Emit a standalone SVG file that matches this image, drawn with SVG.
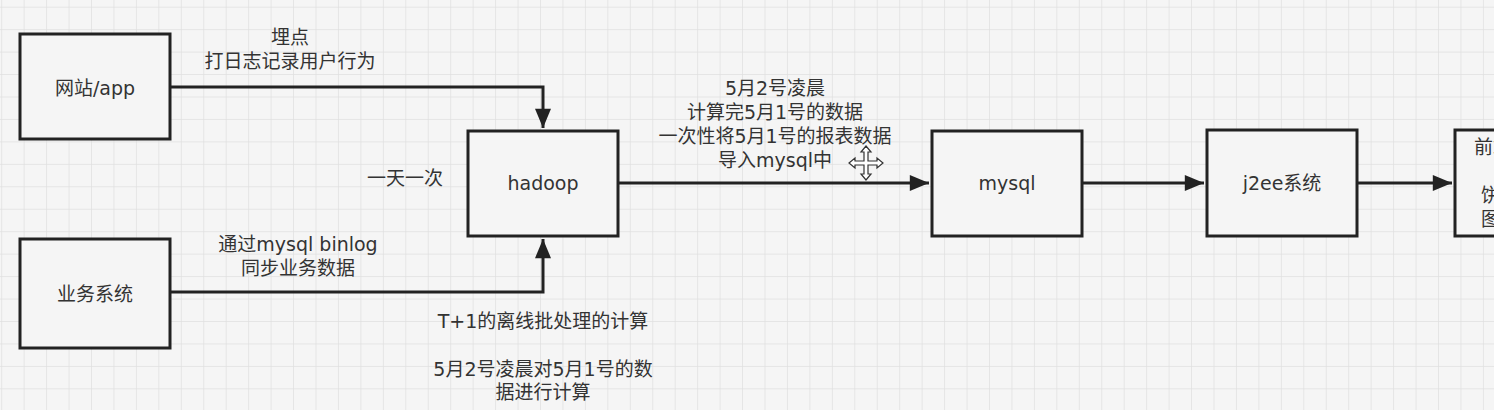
<svg xmlns="http://www.w3.org/2000/svg" width="1494" height="410" viewBox="0 0 1494 410">
<defs>
<pattern id="grid" x="1.2" y="6.7" width="22.45" height="22.45" patternUnits="userSpaceOnUse">
<path d="M0 0V22.45M0 0H22.45" fill="none" stroke="#e0e0e0" stroke-width="1.5"/>
</pattern>
<marker id="arrB" viewBox="0 0 12 10" refX="12" refY="5" markerWidth="22" markerHeight="16" markerUnits="userSpaceOnUse" orient="auto">
<path d="M0 0L12 5L0 10Z" fill="#222"/>
</marker>
<style>
.box{fill:#f5f5f5;stroke:#222;stroke-width:3}
.lbl{font-family:"DejaVu Sans","Noto Sans CJK SC",sans-serif;font-size:19px;fill:#333;text-anchor:middle}
.edge{fill:none;stroke:#222;stroke-width:3}
</style>
</defs>
<rect width="1494" height="410" fill="#f5f5f5"/>
<rect width="1494" height="410" fill="url(#grid)"/>

<g id="connectors">
<path class="edge" d="M170 87H543V128" marker-end="url(#arrB)"/>
<path class="edge" d="M170 292H543V239" marker-end="url(#arrB)"/>
<path class="edge" d="M618 183H929" marker-end="url(#arrB)"/>
<path class="edge" d="M1082 183H1204" marker-end="url(#arrB)"/>
<path class="edge" d="M1357 183H1452" marker-end="url(#arrB)"/>
</g>

<g id="edge-labels">
<text class="lbl" x="290" y="44">埋点</text>
<text class="lbl" x="290" y="68">打日志记录用户行为</text>
<text class="lbl" x="405" y="185">一天一次</text>
<text class="lbl" x="298" y="251">通过mysql binlog</text>
<text class="lbl" x="298" y="275">同步业务数据</text>
<text class="lbl" x="543" y="328">T+1的离线批处理的计算</text>
<text class="lbl" x="543" y="376">5月2号凌晨对5月1号的数</text>
<text class="lbl" x="543" y="399">据进行计算</text>
<text class="lbl" x="775" y="95">5月2号凌晨</text>
<text class="lbl" x="775" y="119">计算完5月1号的数据</text>
<text class="lbl" x="775" y="143">一次性将5月1号的报表数据</text>
<text class="lbl" x="775" y="167">导入mysql中</text>
</g>

<g id="node-web"><rect class="box" x="20" y="34" width="150" height="105"/><text class="lbl" x="95" y="95">网站/app</text></g>
<g id="node-biz"><rect class="box" x="20" y="239" width="150" height="109"/><text class="lbl" x="95" y="301">业务系统</text></g>
<g id="node-hadoop"><rect class="box" x="468" y="131" width="150" height="105"/><text class="lbl" x="543" y="190">hadoop</text></g>
<g id="node-mysql"><rect class="box" x="932" y="131" width="150" height="105"/><text class="lbl" x="1007" y="190">mysql</text></g>
<g id="node-j2ee"><rect class="box" x="1207" y="130" width="150" height="106"/><text class="lbl" x="1282" y="190">j2ee系统</text></g>
<g id="node-front"><rect class="box" x="1455" y="130" width="150" height="106"/>
<text class="lbl" style="text-anchor:start" x="1474" y="154">前端展示</text>
<text class="lbl" style="text-anchor:start" x="1481" y="202">饼状图</text>
<text class="lbl" style="text-anchor:start" x="1481" y="226">图表</text>
</g>

<g id="cursor" fill="#fff" stroke="#333" stroke-width="1.2">
<path d="M866 146L871 152H868V161H877V158L883 163L877 168V165H868V174H871L866 180L861 174H864V165H855V168L849 163L855 158V161H864V152H861Z"/>
</g>
</svg>
